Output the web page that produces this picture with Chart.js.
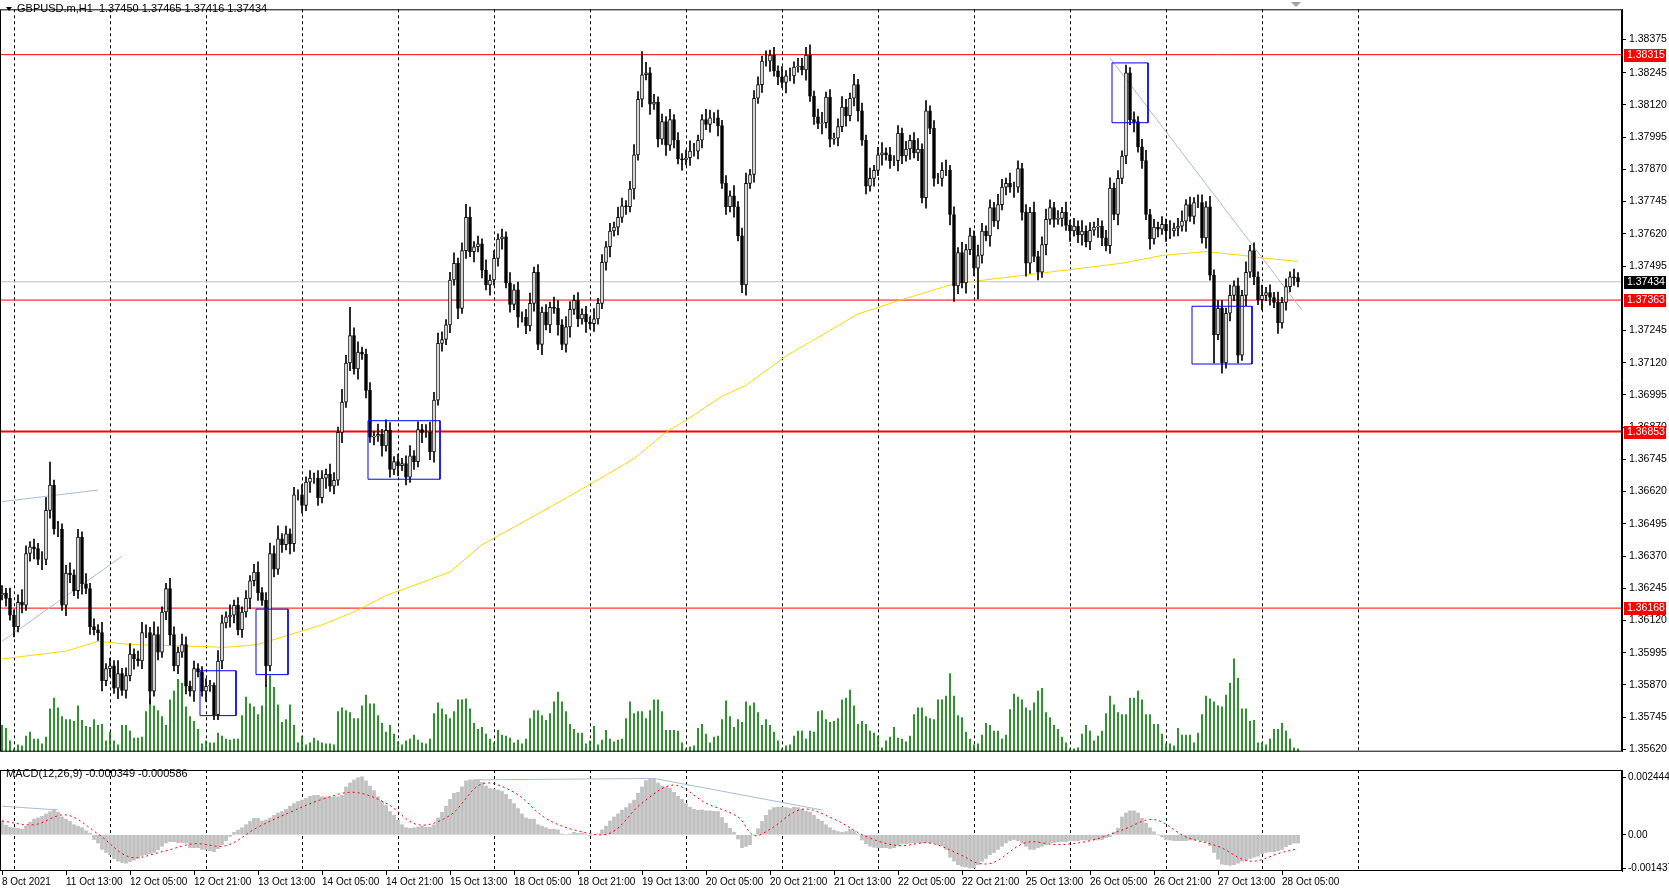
<!DOCTYPE html>
<html><head><meta charset="utf-8">
<script src="https://cdn.jsdelivr.net/npm/chart.js@4.4.1/dist/chart.umd.min.js"></script>
<style>
html,body{margin:0;padding:0;background:#fff;width:1669px;height:888px;overflow:hidden}
#w1{position:absolute;left:0;top:0;width:1669px;height:761px}
#w2{position:absolute;left:0;top:762px;width:1669px;height:126px}
</style></head><body>
<div id="w1"><canvas id="c1" width="1669" height="761"></canvas></div>
<div id="w2"><canvas id="c2" width="1669" height="126"></canvas></div>
<script>
// ---------- DATA ----------
const symbolTitle = "GBPUSD.m,H1  1.37450 1.37465 1.37416 1.37434";
const macdTitle = "MACD(12,26,9) -0.000349 -0.000586";
const firstOpen = 1.36220;
const closes = [
1.36225,1.36206,1.36141,1.36096,1.36190,1.36179,1.36380,1.36406,1.36399,1.36357,
1.36357,1.36547,1.36645,1.36475,1.36475,1.36179,1.36304,1.36297,1.36236,1.36444,
1.36262,1.36244,1.36096,1.36084,1.36073,1.35887,1.35933,1.35944,1.35857,1.35914,
1.35849,1.35906,1.35990,1.35971,1.35963,1.36073,1.36073,1.35846,1.36065,1.35997,
1.36153,1.36244,1.36065,1.35944,1.35997,1.36027,1.35865,1.35846,1.35933,1.35921,
1.35846,1.35865,1.35868,1.35755,1.35963,1.36111,1.36134,1.36141,1.36179,1.36084,
1.36153,1.36206,1.36274,1.36308,1.36228,1.36198,1.35944,1.36380,1.36319,1.36437,
1.36414,1.36456,1.36418,1.36607,1.36607,1.36566,1.36657,1.36672,1.36672,1.36596,
1.36672,1.36687,1.36641,1.36664,1.36850,1.36967,1.37119,1.37225,1.37096,1.37161,
1.37153,1.37013,1.36831,1.36835,1.36842,1.36797,1.36858,1.36706,1.36736,1.36721,
1.36729,1.36676,1.36759,1.36736,1.36861,1.36850,1.36850,1.36774,1.36975,1.37195,
1.37210,1.37267,1.37441,1.37506,1.37331,1.37555,1.37684,1.37551,1.37570,1.37581,
1.37479,1.37422,1.37441,1.37525,1.37600,1.37608,1.37430,1.37346,1.37403,1.37297,
1.37297,1.37263,1.37350,1.37471,1.37191,1.37316,1.37267,1.37335,1.37331,1.37267,
1.37191,1.37259,1.37327,1.37362,1.37290,1.37309,1.37278,1.37271,1.37290,1.37350,
1.37509,1.37570,1.37631,1.37646,1.37684,1.37729,1.37725,1.37794,1.37926,1.38142,
1.38237,1.38245,1.38123,1.38131,1.37987,1.38055,1.37964,1.38063,1.37983,1.37911,
1.37907,1.37915,1.37941,1.37941,1.37983,1.38063,1.38044,1.38070,1.38070,1.38040,
1.37816,1.37725,1.37767,1.37725,1.37612,1.37422,1.37816,1.37850,1.38146,1.38199,
1.38290,1.38290,1.38313,1.38252,1.38229,1.38207,1.38233,1.38233,1.38267,1.38271,
1.38256,1.38313,1.38154,1.38074,1.38048,1.38051,1.38150,1.37987,1.37991,1.38036,
1.38112,1.38078,1.38146,1.38199,1.38097,1.37983,1.37805,1.37835,1.37866,1.37926,
1.37934,1.37926,1.37904,1.37904,1.38010,1.37922,1.37949,1.37983,1.37934,1.37949,
1.37760,1.38097,1.38029,1.37835,1.37835,1.37866,1.37866,1.37695,1.37418,1.37547,
1.37430,1.37559,1.37612,1.37487,1.37536,1.37631,1.37612,1.37722,1.37669,1.37733,
1.37801,1.37816,1.37801,1.37801,1.37873,1.37703,1.37506,1.37703,1.37532,1.37471,
1.37578,1.37676,1.37722,1.37676,1.37680,1.37703,1.37653,1.37631,1.37650,1.37616,
1.37631,1.37589,1.37634,1.37646,1.37650,1.37604,1.37574,1.37797,1.37695,1.37835,
1.37922,1.38245,1.38063,1.38055,1.37957,1.37904,1.37695,1.37600,1.37646,1.37638,
1.37657,1.37631,1.37631,1.37642,1.37650,1.37669,1.37733,1.37688,1.37741,1.37741,
1.37604,1.37725,1.37460,1.37229,1.37331,1.37119,1.37312,1.37381,1.37418,1.37149,
1.37381,1.37471,1.37555,1.37453,1.37365,1.37381,1.37392,1.37373,1.37354,1.37274,
1.37354,1.37415,1.37453,1.37450,1.37434];
// wick lengths in pips (one digit per bar)
const upperWickPips = "3242353232325232342324232"+"4232523423432532243243232"+"2323432423232342343523232"+"4232332432532342232424323"+"2342323432323423242324232"+"3242323423232432432323242"+"3232432342342323242323432"+"2432323242342332423242323"+"3242342323432423242342323"+"2323424232342324232432324"+"3242323242343232423242323"+"2342324232342323242342323"+"3242332423242324232423232";
const lowerWickPips = "2324232342423232432342323"+"3232423242324232342323242"+"2423232432324232423232432"+"3242324232423242323242324"+"2323242342323242324232423"+"4232423232423242342324232"+"2342323242324232423242323"+"3232423242342323242324232"+"2423242323242342323242324"+"3242324232324232423232423"+"2324232423242323242342324"+"3232423242324232432324232"+"2423242323242324232423232";
const upperWickBig = {11:5,12:9,53:1,87:11,109:4,116:5,159:3,160:9,188:3,201:3,281:3};
const lowerWickBig = {25:4,37:5,53:2,66:8,185:3,238:6,244:12,256:5,303:11};
const volumes = [
27,24,11,3,7,6,16,20,13,13,8,15,44,55,45,36,33,33,31,47,32,26,25,33,27,28,11,20,11,7,
27,27,21,14,14,15,41,54,47,42,36,27,53,62,74,70,46,36,31,23,8,11,9,9,19,16,13,12,13,13,
37,56,49,46,38,47,68,78,66,48,30,33,48,27,9,16,7,9,14,11,9,8,8,7,41,45,42,40,34,34,
47,58,49,49,37,29,20,27,18,10,7,11,13,17,12,
9,8,13,39,50,44,38,34,41,53,53,54,44,29,23,25,18,13,9,22,17,16,14,9,12,8,13,34,42,42,
37,32,39,51,61,51,41,28,23,19,19,8,11,26,7,12,22,13,10,12,13,34,51,39,41,41,34,42,53,53,
41,22,22,22,21,9,3,5,6,24,28,18,9,15,16,33,52,36,25,33,30,51,47,50,40,27,33,27,20,11,
3,6,7,16,21,21,13,21,20,41,42,33,30,31,34,53,55,63,47,28,31,28,21,19,16,4,11,15,25,14,
13,10,16,38,45,45,36,34,33,53,53,57,80,57,37,35,20,13,7,8,17,29,27,21,21,13,17,43,59,56,
53,45,42,50,62,65,40,35,27,23,15,9,3,3,4,18,27,21,11,16,21,39,57,48,40,38,38,55,55,62,
53,38,38,28,28,18,8,8,6,24,17,17,17,9,19,38,57,54,51,47,46,58,70,95,75,44,44,31,32,9,
9,7,13,23,23,29,21,13,4,3];
// moving average (keypoints: bar index, price)
const maBars = [0,16,24,32,48,56,64,72,80,88,96,104,112,120,136,148,158,166,172,180,186,196,204,214,225,238,250,268,280,290,301,308,316,324];
const maValues = [1.35971,1.36001,1.36039,1.36027,1.36020,1.36016,1.36027,1.36065,1.36103,1.36153,1.36217,1.36262,1.36308,1.36414,1.36551,1.36657,1.36748,1.36850,1.36907,1.36990,1.37032,1.37146,1.37218,1.37309,1.37365,1.37426,1.37449,1.37483,1.37506,1.37536,1.37551,1.37540,1.37525,1.37513];
// MACD main (units of 0.00001)
const macdMain = [
59,41,33,30,28,24,37,54,67,72,79,89,99,109,96,76,67,57,43,37,30,17,7,-20,-35,-62,-75,-85,-101,-112,
-118,-121,-114,-108,-99,-88,-85,-81,-75,-64,-49,-35,-29,-29,-33,-33,-35,-55,-55,-55,-62,-62,-68,-72,-59,-42,-25,-7,11,20,
30,43,57,70,70,59,63,72,83,93,99,109,122,133,142,148,155,164,168,168,162,162,162,162,162,168,204,221,234,243,
247,230,208,188,162,142,125,99,83,63,43,30,28,30,33,
37,33,33,43,72,96,122,151,177,181,204,230,234,234,234,223,208,197,194,191,185,172,151,133,112,89,72,67,67,43,
37,30,24,24,21,4,0,4,11,7,8,4,-4,0,4,21,37,59,76,89,105,116,133,148,177,204,231,240,238,221,
208,204,198,181,164,151,133,118,109,105,106,102,102,100,99,74,50,28,11,-18,-55,-49,-42,0,26,57,83,106,116,118,
118,116,112,118,116,109,100,96,83,67,59,43,30,20,14,11,14,24,17,4,-22,-38,-49,-53,-55,-55,-55,-58,-55,-46,
-38,-38,-35,-35,-33,-35,-33,-35,-35,-42,-46,-62,-95,-112,-127,-134,-137,-141,-141,-127,-112,-101,-85,-75,-62,-49,-35,-25,-20,-25,
-35,-49,-62,-62,-55,-49,-42,-35,-33,-29,-29,-29,-25,-25,-25,-22,-22,-22,-22,-22,-20,-12,-7,11,28,76,93,102,102,93,
70,50,30,13,0,-9,-20,-22,-25,-25,-25,-25,-22,-22,-22,-25,-29,-46,-75,-104,-125,-127,-130,-127,-121,-112,-108,-101,-95,-91,
-81,-75,-72,-72,-68,-62,-51,-42,-35,-35];
// MACD signal keypoints (bar index, units of 0.00001)
const sigBars = [0,8,16,24,32,40,48,56,64,72,80,88,96,104,112,120,128,136,144,152,160,168,176,184,188,192,200,208,216,224,232,240,244,248,256,264,272,280,288,296,304,312,320,324];
const sigValues = [59,43,85,4,-95,-72,-38,-46,33,96,151,181,135,43,83,217,181,70,17,7,135,212,135,76,-3,24,109,67,-7,-46,-35,-88,-121,-117,-33,-42,-25,20,65,-9,-49,-112,-75,-59];
const priceTicks = [1.38375,1.38245,1.38120,1.37995,1.37870,1.37745,1.37620,1.37495,1.37245,1.37120,1.36995,1.36870,1.36745,1.36620,1.36495,1.36370,1.36245,1.36120,1.35995,1.35870,1.35745,1.35620];
const levelLines = [1.38315,1.37363,1.36853,1.36168];
const lastPrice = 1.37434;
const timeLabelBars = [0,16,32,48,64,80,96,112,128,144,160,176,192,208,224,240,256,272,288,304,320];
const timeLabels = ["8 Oct 2021","11 Oct 13:00","12 Oct 05:00","12 Oct 21:00","13 Oct 13:00","14 Oct 05:00","14 Oct 21:00","15 Oct 13:00","18 Oct 05:00","18 Oct 21:00","19 Oct 13:00","20 Oct 05:00","20 Oct 21:00","21 Oct 13:00","22 Oct 05:00","22 Oct 21:00","25 Oct 13:00","26 Oct 05:00","26 Oct 21:00","27 Oct 13:00","28 Oct 05:00"];
const gridBars = [3,27,51,75,99,123,147,171,195,219,243,267,291,315,339];
const boxes = [ // [fromBar,toBar,highPrice,lowPrice]
 [50,58,1.35925,1.35751],[64,71,1.36164,1.35910],[92,109,1.36895,1.36668],[278,286,1.38283,1.38051],[298,312,1.37339,1.37115]];
const trendLines = [ // [bar1,price1,bar2,price2]
 [0,1.36581,24,1.36626],[0,1.36039,30,1.36369],[277,1.38302,325,1.37324]];
const macdTrend = [[0,122,14,106],[118,234,163,240],[163,240,205,106]];
const macdTicks = [0.002444,0,-0.001437];
const macdTickLabels = ["0.002444","0.00","-0.001437"];

// ---------- BUILD ----------
const N = closes.length;
const opens = closes.map((c,i)=> i===0 ? firstOpen : closes[i-1]);
const up = i => (upperWickBig[i]!==undefined ? upperWickBig[i] : +(upperWickPips[i]||2));
const dn = i => (lowerWickBig[i]!==undefined ? lowerWickBig[i] : +(lowerWickPips[i]||2));
const bodies = closes.map((c,i)=>({x:i,y:[opens[i],c]}));
const wicks = closes.map((c,i)=>({x:i,y:[Math.min(opens[i],c)-dn(i)*0.0001, Math.max(opens[i],c)+up(i)*0.0001]}));
const volData = volumes.map((v,i)=>({x:i,y:v}));
const maData = maBars.map((b,k)=>({x:b,y:maValues[k]}));
const macdData = macdMain.map((v,i)=>({x:i,y:v*1e-5}));
const sigData = sigBars.map((b,k)=>({x:b,y:sigValues[k]*1e-5}));
const XMIN=-0.5, XMAX=405;
const FONT = "10.5px 'Liberation Sans', 'DejaVu Sans', sans-serif";
Chart.defaults.font.family = "'Liberation Sans','DejaVu Sans',sans-serif";
Chart.defaults.font.size = 11;
Chart.defaults.color = "#000";

function lineDs(points,color,width,order,dash){
  return {type:'line',data:points,borderColor:color,borderWidth:width,pointRadius:0,fill:false,order:order,borderDash:dash||[],tension:0,yAxisID:'y',spanGaps:true};
}
const ds1 = [];
ds1.push({type:'bar',data:volData,yAxisID:'yv',backgroundColor:'#008000',barThickness:1,grouped:false,order:9});
levelLines.forEach((v,k)=>ds1.push(lineDs([{x:XMIN,y:v},{x:XMAX,y:v}],'#FF0000',k===2?2:1,8)));
ds1.push(lineDs([{x:XMIN,y:lastPrice},{x:XMAX,y:lastPrice}],'#C0C0C0',1,8));
trendLines.forEach(t=>ds1.push(lineDs([{x:t[0],y:t[1]},{x:t[2],y:t[3]}],'#A9BCD6',1,7)));
boxes.forEach(b=>ds1.push(lineDs([{x:b[0]-0.5,y:b[2]},{x:b[1]+0.5,y:b[2]},{x:b[1]+0.5,y:b[3]},{x:b[0]-0.5,y:b[3]},{x:b[0]-0.5,y:b[2]}],'#0000FF',1,1)));
ds1.push(lineDs(maData,'#FFD700',1,6));
ds1.push({type:'bar',data:wicks,yAxisID:'y',backgroundColor:'#000',barThickness:1,grouped:false,order:3});
ds1.push({type:'bar',data:bodies,yAxisID:'y',barThickness:3,grouped:false,order:2,borderSkipped:false,borderWidth:1,borderColor:'#000',
  backgroundColor:closes.map((c,i)=>c>=opens[i]?'#FFFFFF':'#000000')});

const gridPlugin = {
  id:'mtgrid',
  beforeDatasetsDraw(chart){
    const {ctx,chartArea:a,scales:{x}}=chart;
    ctx.save();ctx.strokeStyle='#000';ctx.lineWidth=1;ctx.setLineDash([3,3]);
    gridBars.forEach(b=>{const px=Math.round(x.getPixelForValue(b))+0.5;ctx.beginPath();ctx.moveTo(px,a.top);ctx.lineTo(px,a.bottom);ctx.stroke();});
    ctx.restore();
  },
  afterDraw(chart){
    const {ctx,chartArea:a}=chart;
    ctx.save();ctx.strokeStyle='#000';ctx.lineWidth=1;
    ctx.strokeRect(a.left+0.5,a.top+0.5,a.right-a.left-1,a.bottom-a.top-1);
    ctx.restore();
  }
};
const labelPlugin = {
  id:'mtlabels',
  afterDraw(chart){
    const {ctx,scales:{y}}=chart;
    ctx.save();ctx.font=FONT;ctx.textBaseline='middle';
    const tag=(v,bg)=>{const py=Math.round(y.getPixelForValue(v));ctx.fillStyle=bg;ctx.fillRect(1624,py-6,42,13);ctx.fillStyle='#fff';ctx.textAlign='left';ctx.fillText(v.toFixed(5),1627,py+0.5);};
    levelLines.forEach(v=>tag(v,'#FF0000'));
    tag(lastPrice,'#000000');
    ctx.fillStyle='#000';ctx.textAlign='left';ctx.font="11px 'Liberation Sans','DejaVu Sans',sans-serif";
    ctx.beginPath();ctx.moveTo(6,7);ctx.lineTo(12,7);ctx.lineTo(9,11);ctx.closePath();ctx.fill();
    ctx.fillText(symbolTitle,17,9);
    ctx.fillStyle='#A0A0A0';ctx.beginPath();ctx.moveTo(1291,2);ctx.lineTo(1301,2);ctx.lineTo(1296,7);ctx.closePath();ctx.fill();
    ctx.restore();
  }
};

new Chart(document.getElementById('c1'),{
  type:'bar',
  data:{datasets:ds1},
  options:{responsive:false,animation:false,devicePixelRatio:1,
    layout:{padding:{top:0,bottom:1,left:0,right:0}},
    plugins:{legend:{display:false},tooltip:{enabled:false}},
    scales:{
      x:{type:'linear',min:XMIN,max:XMAX,display:false,offset:false},
      y:{type:'linear',position:'right',min:1.35611,max:1.38491,
        afterBuildTicks(s){s.ticks=priceTicks.map(v=>({value:v}));},
        afterFit(s){s.width=47;},
        ticks:{callback:v=>v.toFixed(5),padding:3,font:{size:10.5},color:'#000',autoSkip:false},
        grid:{drawOnChartArea:false,drawTicks:true,tickLength:4,color:'#000'},
        border:{display:true,color:'#000'}},
      yv:{type:'linear',min:0,max:760,display:false}
    }},
  plugins:[gridPlugin,labelPlugin]
});

const ds2 = [];
ds2.push({type:'bar',data:macdData,backgroundColor:'#C0C0C0',barThickness:3,grouped:false,order:5,yAxisID:'y'});
ds2.push({type:'line',data:sigData,borderColor:'#FF0000',borderWidth:1,borderDash:[2,3],pointRadius:0,tension:0.35,order:1,yAxisID:'y'});
macdTrend.forEach(t=>ds2.push({type:'line',data:[{x:t[0],y:t[1]*1e-5},{x:t[2],y:t[3]*1e-5}],borderColor:'#A9BCD6',borderWidth:1,pointRadius:0,order:2,yAxisID:'y'}));
const macdLabel = {id:'macdlbl',afterDraw(chart){const {ctx}=chart;ctx.save();ctx.font="11px 'Liberation Sans','DejaVu Sans',sans-serif";ctx.fillStyle='#000';ctx.textBaseline='middle';ctx.fillText(macdTitle,6,12);ctx.restore();}};

new Chart(document.getElementById('c2'),{
  type:'bar',
  data:{datasets:ds2},
  options:{responsive:false,animation:false,devicePixelRatio:1,
    layout:{padding:{top:1,bottom:0,left:0,right:0}},
    plugins:{legend:{display:false},tooltip:{enabled:false}},
    scales:{
      x:{type:'linear',min:XMIN,max:XMAX,position:'bottom',offset:false,
        afterBuildTicks(s){s.ticks=timeLabelBars.map(v=>({value:v}));},
        afterFit(s){s.height=17;},
        ticks:{callback:(v)=>{const k=timeLabelBars.indexOf(v);return k>=0?timeLabels[k]:'';},align:'start',maxRotation:0,minRotation:0,autoSkip:false,padding:1,font:{size:10},color:'#000'},
        grid:{drawOnChartArea:false,drawTicks:true,tickLength:4,color:'#000',offset:false},
        border:{display:false}},
      y:{type:'linear',position:'right',min:-0.00154,max:0.00276,
        afterBuildTicks(s){s.ticks=macdTicks.map(v=>({value:v}));},
        afterFit(s){s.width=47;},
        ticks:{callback:(v)=>{const k=macdTicks.indexOf(v);return k>=0?macdTickLabels[k]:'';},padding:2,font:{size:10},color:'#000',autoSkip:false},
        grid:{drawOnChartArea:false,drawTicks:true,tickLength:4,color:'#000'},
        border:{display:true,color:'#000'}}
    }},
  plugins:[gridPlugin,macdLabel]
});
</script>
</body></html>
